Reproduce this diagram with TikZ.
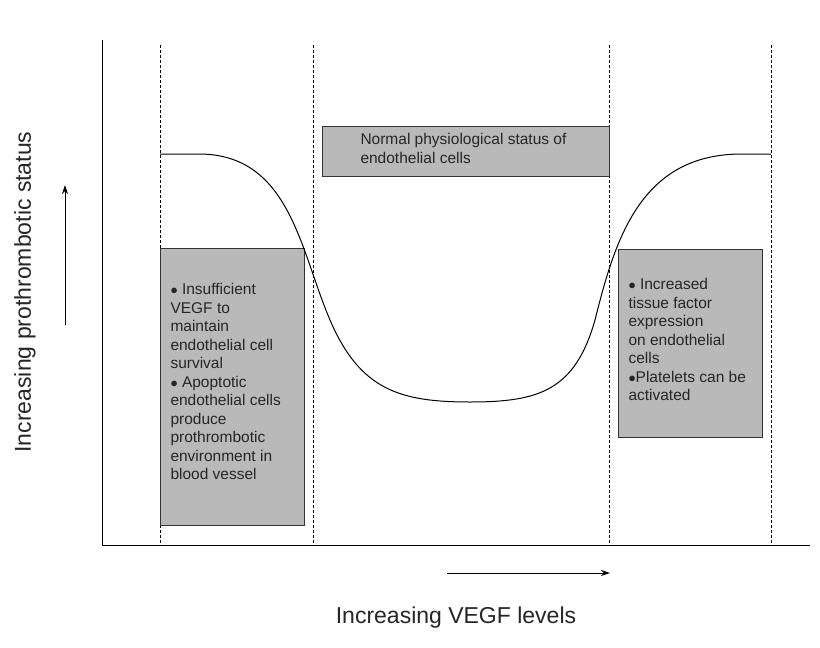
\documentclass[tikz,border=0pt]{standalone}
\usepackage{fontspec}
\setmainfont{Liberation Sans}
\usetikzlibrary{arrows.meta}
\tikzset{
  infobox/.style={draw=black!80, fill=gray!55, line width=0.8pt},
  guide/.style={densely dashed, line width=0.8pt},
  boxtext/.style={align=left, font=\fontsize{15.5}{18.5}\selectfont, text=black!85, anchor=north west}
}
\begin{document}
\begin{tikzpicture}[x=1pt, y=-1pt, line width=1pt]
      \fill[white] (0,0) rectangle (820,648);
      % axes
      \coordinate (top) at (102,40);
      \coordinate (org) at (102,545);
      \coordinate (xend) at (810,545);
      \draw (top) -- (org) -- (xend);
      % guide lines
      \foreach \gx in {160,313,609,771}
        \draw[guide] (\gx,45) -- (\gx,545);
      % boxes
      \node[infobox, minimum width=287pt, minimum height=50pt, anchor=north west] (normal) at (322,126) {};
      \node[boxtext, align=left, inner sep=0pt] (normaltxt) at (360,133) {Normal physiological status of\\endothelial cells};
      \node[infobox, minimum width=144pt, minimum height=277pt, anchor=north west] (low) at (160,248) {};
      \node[boxtext, inner sep=0pt] (lowtxt) at (170,283) {$\bullet$ Insufficient\\VEGF to\\maintain\\endothelial cell\\survival\\$\bullet$ Apoptotic\\endothelial cells\\produce\\prothrombotic\\environment in\\blood vessel};
      \node[infobox, minimum width=144pt, minimum height=188pt, anchor=north west] (high) at (618,249) {};
      \node[boxtext, inner sep=0pt] (hightxt) at (628,278) {$\bullet$ Increased\\tissue factor\\expression\\on endothelial\\cells\\$\bullet$Platelets can be\\activated};
      % curve
      \draw (160,154) -- (200,154) .. controls (290,155) and (300,250) .. (330,320)
        .. controls (360,390) and (400,402) .. (470,402)
        .. controls (540,402) and (575,390) .. (595,320)
        .. controls (615,240) and (640,155) .. (740,154) -- (771,154);
      % arrows
      \coordinate (ua) at (65,325);
      \coordinate (ub) at (65,185);
      \draw[-{Stealth[length=9pt,width=6pt]}] (ua) -- (ub);
      \coordinate (ra) at (447,573);
      \coordinate (rb) at (610,573);
      \draw[-{Stealth[length=9pt,width=6pt]}] (ra) -- (rb);
      % axis labels
      \node[rotate=90, font=\fontsize{23}{26}\selectfont, text=black!85] (ylab) at (25,292) {Increasing prothrombotic status};
      \node[font=\fontsize{23}{26}\selectfont, text=black!85] (xlab) at (456,618) {Increasing VEGF levels};
\end{tikzpicture}
\end{document}
